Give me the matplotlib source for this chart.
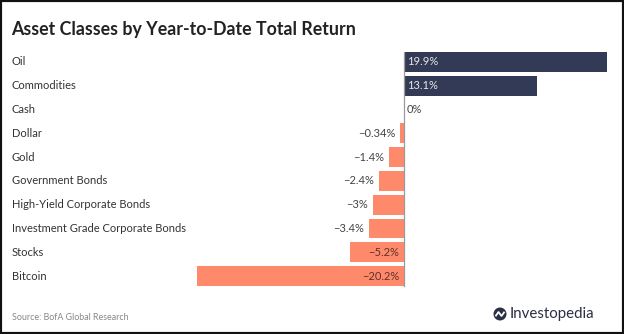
import matplotlib.pyplot as plt
import matplotlib.transforms as mtransforms
from matplotlib.patches import Rectangle, Ellipse

assets = ["Oil", "Commodities", "Cash", "Dollar", "Gold", "Government Bonds",
          "High-Yield Corporate Bonds", "Investment Grade Corporate Bonds",
          "Stocks", "Bitcoin"]
returns = [19.9, 13.1, 0.0, -0.34, -1.4, -2.4, -3.0, -3.4, -5.2, -20.2]
labels = ["19.9%", "13.1%", "0%", "\u22120.34%", "\u22121.4%", "\u22122.4%",
          "\u22123%", "\u22123.4%", "\u22125.2%", "\u221220.2%"]
inside = [True, True, False, False, False, False, False, False, True, True]

navy = "#323a56"
salmon = "#ff8a6b"
font = "Lato"

W, H = 624, 334
fig = plt.figure(figsize=(W / 100, H / 100), dpi=100)
ax = fig.add_axes([197 / W, 1 - 288 / H, 410 / W, 238 / H])

ypos = list(range(len(assets)))
colors = [navy if v > 0 else salmon for v in returns]
ax.barh(ypos, returns, height=0.84, color=colors)
ax.set_xlim(-20.2, 19.9)
ax.set_ylim(len(assets) - 0.5, -0.5)
ax.axis("off")
ax.plot([0, 0], [-0.42, len(assets) - 0.58], color="#9a9a9a", lw=0.9)

# category names sit at the left edge of the figure
trans = mtransforms.blended_transform_factory(fig.transFigure, ax.transData)
for y, name in zip(ypos, assets):
    ax.text(12 / W, y, name, transform=trans, ha="left", va="center",
            fontsize=8, color="#333333", family=font)

for y, v, lab, ins in zip(ypos, returns, labels, inside):
    if v > 0:
        ax.text(0.35, y, lab, ha="left", va="center", fontsize=8,
                color="#e8e8e8", family=font)
    elif v == 0:
        ax.text(0.35, y, lab, ha="left", va="center", fontsize=8,
                color="#444444", family=font)
    elif ins:
        ax.text(-0.45, y, lab, ha="right", va="center", fontsize=8,
                color="#5a3128", family=font)
    else:
        ax.text(v - 0.45, y, lab, ha="right", va="center", fontsize=8,
                color="#444444", family=font)

fig.text(11 / W, 1 - 30 / H, "Asset Classes by Year-to-Date Total Return",
         ha="left", va="center", fontsize=12.8, fontweight="bold",
         color="#222222", family=font)
fig.text(12 / W, 1 - 318 / H, "Source: BofA Global Research", ha="left",
         va="center", fontsize=6.4, color="#888888", family=font)

# logo mark and wordmark
cx, cy = 500 / W, 1 - 314 / H
fig.patches.append(Ellipse((cx, cy), 13 / W, 13 / H, transform=fig.transFigure,
                           facecolor="#2b2f45", edgecolor="none", zorder=1))
fig.lines.append(plt.Line2D([cx - 4 / W, cx - 1.5 / W, cx + 1.5 / W, cx + 4 / W],
                            [cy - 1.5 / H, cy + 2 / H, cy - 2 / H, cy + 1.5 / H],
                            transform=fig.transFigure, color="white", lw=1.3,
                            zorder=2))
fig.text(510 / W, 1 - 314 / H, "Investopedia", ha="left", va="center",
         fontsize=10.8, color="#2b2f45", family=font)

fig.patches.append(Rectangle((0, 0), 1, 1, transform=fig.transFigure,
                             fill=False, edgecolor="#111111", lw=3))

fig.savefig("out.png", dpi=100)
